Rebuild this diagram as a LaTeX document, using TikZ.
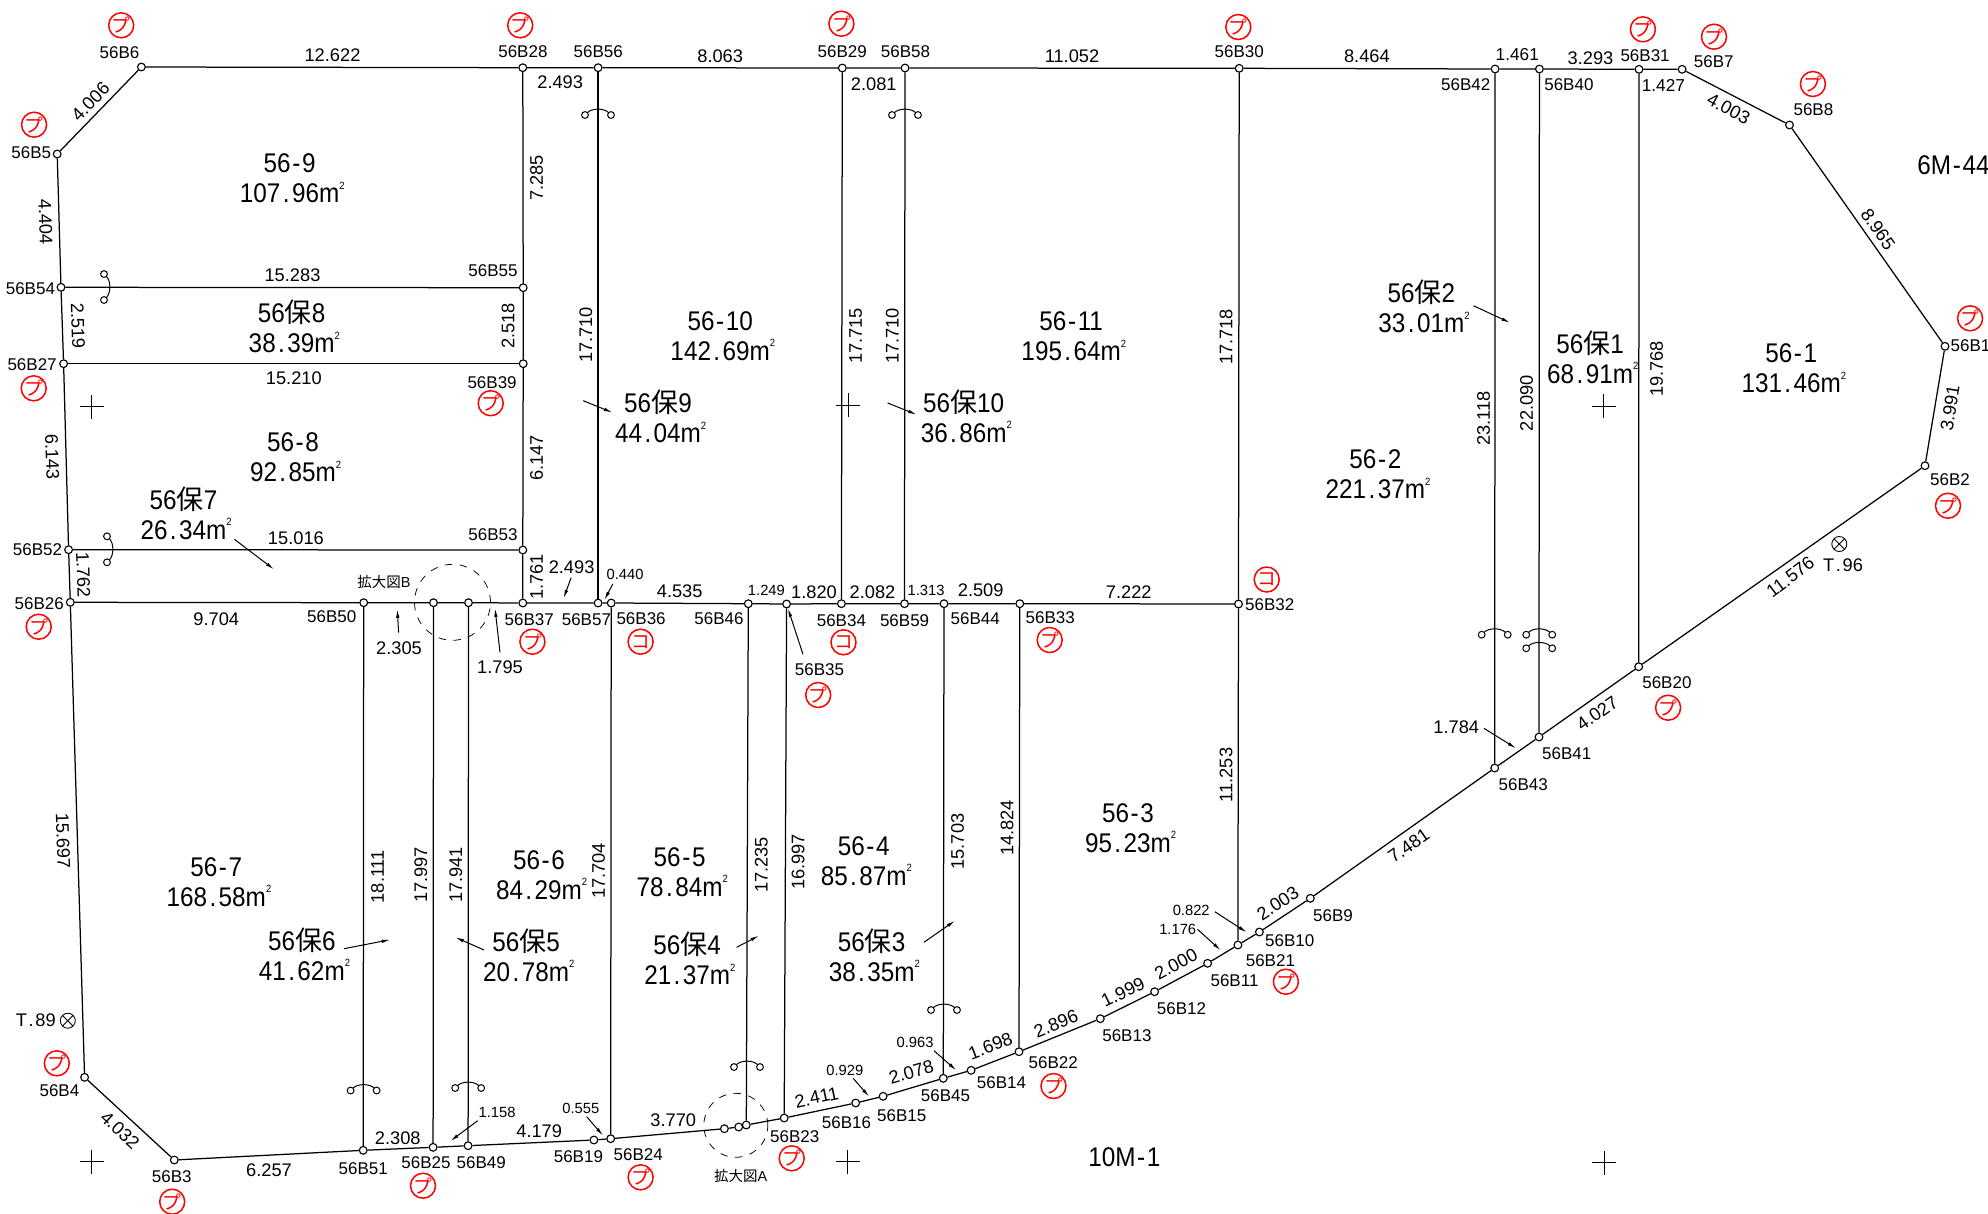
\documentclass[tikz,border=0pt]{standalone}
\usepackage{fontspec}
\setmainfont{Liberation Sans}
\newfontfamily\cjk{Noto Sans CJK JP}
\newfontfamily\areafont[FakeStretch=0.9]{Liberation Sans}
\usetikzlibrary{arrows.meta}
\newcommand{\sqm}{m\rlap{\raisebox{.5em}{\fontsize{4.2}{4.2}\selectfont 2}}}
\newcommand{\ho}{{\cjk 保}}
\newcommand{\dt}{\kern.09em.\kern.09em}
\newcommand{\hy}{\kern.06em-\kern.06em}

\begin{document}
\begin{tikzpicture}[x=0.4pt,y=-0.4pt]
 \tikzset{vertex/.style = {shape=circle,draw,fill=white,minimum size=3.1pt,inner sep=0pt,line width=0.45pt,
   path picture={\fill (path picture bounding box.center) circle (0.35pt);}}}
 \tikzset{edge/.style = {line width=0.5pt}}
 \tikzset{leader/.style = {line width=0.4pt,-{Latex[length=3.4pt,width=1.4pt]}}}
 \tikzset{pointlab/.style = {inner sep=0pt,font=\fontsize{6.8}{8}\selectfont}}
 \tikzset{dimlab/.style = {inner sep=0pt,font=\fontsize{7.3}{8}\selectfont}}
 \tikzset{smalldim/.style = {inner sep=0pt,font=\fontsize{5.9}{7}\selectfont}}
 \tikzset{area/.style = {inner sep=0pt,align=center,font=\areafont\fontsize{10.8}{12}\selectfont}}
 \tikzset{redmark/.style = {shape=circle,draw=red,text=red,line width=0.6pt,minimum size=10pt,inner sep=0pt,font=\cjk\fontsize{7.5}{8}\selectfont}}
 \tikzset{zoomcircle/.style = {draw,dashed,line width=0.3pt}}
 \tikzset{benchmark/.style = {shape=circle,draw,line width=0.35pt,minimum size=6pt,inner sep=0pt,
   path picture={\draw (path picture bounding box.north west) -- (path picture bounding box.south east)
     (path picture bounding box.north east) -- (path picture bounding box.south west);}}}
 \tikzset{hookmark/.pic = {
   \draw[line width=0.4pt] (-13,0) circle (3.4) (13,0) circle (3.4);
   \draw[line width=0.4pt] (-10.5,-2.5) .. controls (-6,-7) and (6,-7) .. (10.5,-2.5);}}
 \tikzset{gridcross/.pic = {\draw[line width=0.4pt] (-12,0) -- (12,0) (0,-12) -- (0,12);}}
 \useasboundingbox (0,0) rectangle (1988,1214);

 % vertices
 \node[vertex] (B1) at (1945,346.3) {};
 \node[vertex] (B2) at (1925,465.7) {};
 \node[vertex] (B3) at (174.3,1160) {};
 \node[vertex] (B4) at (84.6,1077.3) {};
 \node[vertex] (B5) at (57.2,154) {};
 \node[vertex] (B6) at (141.4,67) {};
 \node[vertex] (B7) at (1682.1,69.3) {};
 \node[vertex] (B8) at (1789.5,125) {};
 \node[vertex] (B9) at (1310.3,898.3) {};
 \node[vertex] (B10) at (1259.4,932) {};
 \node[vertex] (B11) at (1207.6,963.3) {};
 \node[vertex] (B12) at (1154.6,991.7) {};
 \node[vertex] (B13) at (1100.3,1018.7) {};
 \node[vertex] (B14) at (971.1,1070.3) {};
 \node[vertex] (B15) at (883.1,1096.3) {};
 \node[vertex] (B16) at (855.7,1103) {};
 \node[vertex] (B19) at (593.9,1140) {};
 \node[vertex] (B20) at (1638.7,666.7) {};
 \node[vertex] (B21) at (1237.9,945) {};
 \node[vertex] (B22) at (1019,1051.7) {};
 \node[vertex] (B23) at (784.2,1118) {};
 \node[vertex] (B24) at (610.7,1138.7) {};
 \node[vertex] (B25) at (433.1,1147.3) {};
 \node[vertex] (B26) at (70.3,602.3) {};
 \node[vertex] (B27) at (63.6,363.7) {};
 \node[vertex] (B28) at (522.8,67.7) {};
 \node[vertex] (B29) at (842.3,68) {};
 \node[vertex] (B30) at (1239.2,68.3) {};
 \node[vertex] (B31) at (1639,69.3) {};
 \node[vertex] (B32) at (1238.5,604) {};
 \node[vertex] (B33) at (1019.8,603.7) {};
 \node[vertex] (B34) at (841.4,603.7) {};
 \node[vertex] (B35) at (786.6,604) {};
 \node[vertex] (B36) at (611.2,603) {};
 \node[vertex] (B37) at (522.8,603) {};
 \node[vertex] (B39) at (523.2,363.7) {};
 \node[vertex] (B40) at (1539.4,69) {};
 \node[vertex] (B41) at (1539,737) {};
 \node[vertex] (B42) at (1495.1,69) {};
 \node[vertex] (B43) at (1494.7,768) {};
 \node[vertex] (B44) at (944,603.7) {};
 \node[vertex] (B45) at (943.3,1078.3) {};
 \node[vertex] (B46) at (748.3,603.7) {};
 \node[vertex] (B49) at (468.1,1145.7) {};
 \node[vertex] (B50) at (363.7,602.7) {};
 \node[vertex] (B51) at (363.2,1150.3) {};
 \node[vertex] (B52) at (68.6,549.7) {};
 \node[vertex] (B53) at (522.8,550) {};
 \node[vertex] (B54) at (61,287.3) {};
 \node[vertex] (B55) at (523.2,287.7) {};
 \node[vertex] (B56) at (598.1,67.7) {};
 \node[vertex] (B57) at (598.1,603) {};
 \node[vertex] (B58) at (905,68) {};
 \node[vertex] (B59) at (904.5,603.7) {};
 % unnumbered points in the two circles
 \node[vertex] (zb1) at (433.5,602.7) {};
 \node[vertex] (zb2) at (468.5,602.7) {};
 \node[vertex] (za1) at (724.4,1128.7) {};
 \node[vertex] (za2) at (738.7,1127) {};
 \node[vertex] (za3) at (746.3,1125) {};

 % edges
 \draw[edge] (B6) -- (B5) -- (B54) -- (B27) -- (B52) -- (B26) -- (B4) -- (B3) -- (B51) -- (B25) -- (B49) -- (B19) -- (B24) -- (za1) -- (za2) -- (za3) -- (B23) -- (B16) -- (B15) -- (B45) -- (B14) -- (B22) -- (B13) -- (B12) -- (B11) -- (B21) -- (B10) -- (B9) -- (B43) -- (B41) -- (B20) -- (B2) -- (B1) -- (B8) -- (B7);
 \draw[edge] (B6) -- (B28) -- (B56) -- (B29) -- (B58) -- (B30) -- (B42) -- (B40) -- (B31) -- (B7);
 \draw[edge] (B26) -- (B50) -- (zb1) -- (zb2) -- (B37) -- (B57) -- (B36) -- (B46) -- (B35) -- (B34) -- (B59) -- (B44) -- (B33) -- (B32);
 \draw[edge] (B54) -- (B55);
 \draw[edge] (B27) -- (B39);
 \draw[edge] (B52) -- (B53);
 \draw[edge] (B28) -- (B55) -- (B39) -- (B53) -- (B37);
 \draw[edge] (B56) -- (B57);
 \draw[edge] (B29) -- (B34);
 \draw[edge] (B58) -- (B59);
 \draw[edge] (B30) -- (B32) -- (B21);
 \draw[edge] (B36) -- (B24);
 \draw[edge] (B50) -- (B51);
 \draw[edge] (zb1) -- (B25);
 \draw[edge] (zb2) -- (B49);
 \draw[edge] (B46) -- (za3);
 \draw[edge] (B35) -- (B23);
 \draw[edge] (B44) -- (B45);
 \draw[edge] (B33) -- (B22);
 \draw[edge] (B42) -- (B43);
 \draw[edge] (B40) -- (B41);
 \draw[edge] (B31) -- (B20);

 % point names
 \node[pointlab] (tB1) at (1970.5,346) {56B1};
 \node[pointlab] (tB2) at (1950,480) {56B2};
 \node[pointlab] (tB3) at (171.8,1177) {56B3};
 \node[pointlab] (tB4) at (59.4,1091) {56B4};
 \node[pointlab] (tB5) at (31.2,152.5) {56B5};
 \node[pointlab] (tB6) at (119.6,52.8) {56B6};
 \node[pointlab] (tB7) at (1713.7,62) {56B7};
 \node[pointlab] (tB8) at (1813.4,110) {56B8};
 \node[pointlab] (tB9) at (1333,915.7) {56B9};
 \node[pointlab] (tB10) at (1289.8,940.5) {56B10};
 \node[pointlab] (tB11) at (1234.5,980.5) {56B11};
 \node[pointlab] (tB12) at (1181.5,1009) {56B12};
 \node[pointlab] (tB13) at (1126.9,1036) {56B13};
 \node[pointlab] (tB14) at (1001.5,1082.5) {56B14};
 \node[pointlab] (tB15) at (901.7,1115.8) {56B15};
 \node[pointlab] (tB16) at (846.5,1123) {56B16};
 \node[pointlab] (tB19) at (578.4,1157) {56B19};
 \node[pointlab] (tB20) at (1666.9,683) {56B20};
 \node[pointlab] (tB21) at (1270.4,960.5) {56B21};
 \node[pointlab] (tB22) at (1053.2,1063) {56B22};
 \node[pointlab] (tB23) at (794.8,1137) {56B23};
 \node[pointlab] (tB24) at (638.2,1154.5) {56B24};
 \node[pointlab] (tB25) at (426,1163) {56B25};
 \node[pointlab] (tB26) at (39.2,604) {56B26};
 \node[pointlab] (tB27) at (32.1,365) {56B27};
 \node[pointlab] (tB28) at (522.9,51.5) {56B28};
 \node[pointlab] (tB29) at (842.3,52) {56B29};
 \node[pointlab] (tB30) at (1239.3,52) {56B30};
 \node[pointlab] (tB31) at (1645.1,55.5) {56B31};
 \node[pointlab] (tB32) at (1269.7,605) {56B32};
 \node[pointlab] (tB33) at (1050.2,618) {56B33};
 \node[pointlab] (tB34) at (841.4,621) {56B34};
 \node[pointlab] (tB35) at (819.5,670) {56B35};
 \node[pointlab] (tB36) at (641.1,618.5) {56B36};
 \node[pointlab] (tB37) at (529.2,619.5) {56B37};
 \node[pointlab] (tB39) at (492.1,382.5) {56B39};
 \node[pointlab] (tB40) at (1568.9,85) {56B40};
 \node[pointlab] (tB41) at (1566.7,753.8) {56B41};
 \node[pointlab] (tB42) at (1465.8,85) {56B42};
 \node[pointlab] (tB43) at (1523.3,784.8) {56B43};
 \node[pointlab] (tB44) at (975.3,619) {56B44};
 \node[pointlab] (tB45) at (945.5,1096) {56B45};
 \node[pointlab] (tB46) at (719,619) {56B46};
 \node[pointlab] (tB49) at (481.2,1162.5) {56B49};
 \node[pointlab] (tB50) at (331.8,616.5) {56B50};
 \node[pointlab] (tB51) at (363.3,1168.5) {56B51};
 \node[pointlab] (tB52) at (37.5,550) {56B52};
 \node[pointlab] (tB53) at (493,534.5) {56B53};
 \node[pointlab] (tB54) at (30.4,288.5) {56B54};
 \node[pointlab] (tB55) at (493,270.5) {56B55};
 \node[pointlab] (tB56) at (598.2,51.5) {56B56};
 \node[pointlab] (tB57) at (586.4,619.5) {56B57};
 \node[pointlab] (tB58) at (905.5,52) {56B58};
 \node[pointlab] (tB59) at (904.6,621) {56B59};

 % red marks
 \node[redmark] (mB1) at (1970.1,318.3) {プ};
 \node[redmark] (mB2) at (1948,505.7) {プ};
 \node[redmark] (mB3) at (172.2,1201.7) {プ};
 \node[redmark] (mB4) at (56.8,1063.3) {プ};
 \node[redmark] (mB5) at (34.1,124.7) {プ};
 \node[redmark] (mB6) at (121.2,25.3) {プ};
 \node[redmark] (mB7) at (1714,36.7) {プ};
 \node[redmark] (mB8) at (1812.9,84) {プ};
 \node[redmark] (mB20) at (1668.1,707.7) {プ};
 \node[redmark] (mB21) at (1285.9,981.7) {プ};
 \node[redmark] (mB22) at (1053.5,1086) {プ};
 \node[redmark] (mB23) at (791.7,1158.3) {プ};
 \node[redmark] (mB24) at (640.6,1177.3) {プ};
 \node[redmark] (mB25) at (423,1185.7) {プ};
 \node[redmark] (mB26) at (38.7,626.7) {プ};
 \node[redmark] (mB27) at (33.7,388.3) {プ};
 \node[redmark] (mB28) at (520.2,25.3) {プ};
 \node[redmark] (mB29) at (841.4,23.7) {プ};
 \node[redmark] (mB30) at (1238.3,27) {プ};
 \node[redmark] (mB31) at (1642.9,29.3) {プ};
 \node[redmark] (mB32) at (1266.7,579.5) {コ};
 \node[redmark] (mB33) at (1049.7,640) {プ};
 \node[redmark] (mB34) at (843.5,642.3) {コ};
 \node[redmark] (mB35) at (818.2,695) {プ};
 \node[redmark] (mB36) at (640.6,641.7) {コ};
 \node[redmark] (mB37) at (532.4,641.7) {プ};
 \node[redmark] (mB39) at (490.7,403.2) {プ};

 % distances
 \node[dimlab] (d12622) at (332.5,55.5) {12.622};
 \node[dimlab,rotate=46] (d4006) at (90.5,101.7) {4.006};
 \node[dimlab,rotate=-88] (d4404) at (45.5,221.7) {4.404};
 \node[dimlab] (d2493) at (560.2,82.5) {2.493};
 \node[dimlab,rotate=90] (d7285) at (536.6,177.7) {7.285};
 \node[dimlab] (d15283) at (292.5,275) {15.283};
 \node[dimlab,rotate=-88] (d2519) at (77.9,325.7) {2.519};
 \node[dimlab,rotate=90] (d2518) at (508,325.7) {2.518};
 \node[dimlab] (d15210) at (293.8,378) {15.210};
 \node[dimlab,rotate=90] (d17710) at (585.9,335) {17.710};
 \node[dimlab,rotate=-88] (d6143) at (52.2,456.7) {6.143};
 \node[dimlab] (d15016) at (295.9,538) {15.016};
 \node[dimlab,rotate=90] (d6147) at (536.6,458) {6.147};
 \node[dimlab,rotate=90] (d1761) at (536.6,576.7) {1.761};
 \node[dimlab] (d2493b) at (571.6,567) {2.493};
 \node[smalldim] (d0440) at (625,574) {0.440};
 \node[dimlab,rotate=-88] (d1762) at (83.3,575) {1.762};
 \node[dimlab] (d9704) at (216.3,619) {9.704};
 \node[dimlab] (d2305) at (399,648.3) {2.305};
 \node[dimlab] (d1795) at (500,667) {1.795};
 \node[dimlab,rotate=-88] (d15697) at (63.1,840.7) {15.697};
 \node[dimlab,rotate=-43] (d4032) at (120,1130) {4.032};
 \node[dimlab] (d6257) at (269,1170) {6.257};
 \node[dimlab] (d2308) at (397.8,1137.8) {2.308};
 \node[smalldim] (d1158) at (497.1,1112) {1.158};
 \node[dimlab] (d4179) at (539.2,1131.5) {4.179};
 \node[smalldim] (d0555) at (580.8,1108.3) {0.555};
 \node[dimlab,rotate=90] (d18111) at (377.6,876.7) {18.111};
 \node[dimlab,rotate=90] (d17997) at (420.9,875) {17.997};
 \node[dimlab,rotate=90] (d17941) at (455.8,875) {17.941};
 \node[dimlab,rotate=90] (d17704) at (598.5,871) {17.704};
 \node[dimlab] (d8063) at (720.2,56) {8.063};
 \node[dimlab] (d2081) at (873.8,84) {2.081};
 \node[dimlab] (d11052) at (1072,56) {11.052};
 \node[dimlab,rotate=90] (d17715) at (855.7,336) {17.715};
 \node[dimlab,rotate=90] (d17710b) at (892.3,336) {17.710};
 \node[dimlab,rotate=90] (d17718) at (1226.1,337) {17.718};
 \node[dimlab] (d4535) at (679.7,591.3) {4.535};
 \node[smalldim] (d1249) at (766.4,590) {1.249};
 \node[dimlab] (d1820) at (814,592) {1.820};
 \node[dimlab] (d2082) at (872.5,592) {2.082};
 \node[smalldim] (d1313) at (926,590.7) {1.313};
 \node[dimlab] (d2509) at (980.7,590.7) {2.509};
 \node[dimlab] (d7222) at (1128.8,592) {7.222};
 \node[dimlab,rotate=90] (d17235) at (761.4,865) {17.235};
 \node[dimlab,rotate=90] (d16997) at (798,862) {16.997};
 \node[dimlab,rotate=90] (d15703) at (957.6,841.5) {15.703};
 \node[dimlab,rotate=90] (d14824) at (1007.2,828) {14.824};
 \node[dimlab,rotate=90] (d11253) at (1226.1,775) {11.253};
 \node[dimlab] (d3770) at (673.3,1120) {3.770};
 \node[dimlab,rotate=12] (d2411) at (816.6,1097.3) {2.411};
 \node[smalldim] (d0929) at (844.8,1070.5) {0.929};
 \node[dimlab,rotate=16] (d2078) at (911.3,1072.3) {2.078};
 \node[smalldim] (d0963) at (915.1,1042.5) {0.963};
 \node[dimlab,rotate=21] (d1698) at (990.4,1046) {1.698};
 \node[dimlab,rotate=22] (d2896) at (1056,1023.7) {2.896};
 \node[dimlab,rotate=26] (d1999) at (1123,992.3) {1.999};
 \node[dimlab,rotate=28] (d2000) at (1176,964.3) {2.000};
 \node[dimlab,rotate=33] (d2003) at (1277.9,903.3) {2.003};
 \node[smalldim] (d0822) at (1191.2,910.5) {0.822};
 \node[smalldim] (d1176) at (1177.7,929.5) {1.176};
 \node[dimlab] (d8464) at (1366.9,56.7) {8.464};
 \node[inner sep=0pt,font=\fontsize{6.9}{8}\selectfont] (d1461) at (1517.3,54.3) {1.461};
 \node[dimlab] (d3293) at (1590.5,58) {3.293};
 \node[inner sep=0pt,font=\fontsize{6.9}{8}\selectfont] (d1427) at (1663.4,85.3) {1.427};
 \node[dimlab,rotate=-28] (d4003) at (1728.6,109) {4.003};
 \node[dimlab,rotate=-55] (d8965) at (1878.1,229.3) {8.965};
 \node[dimlab,rotate=90] (d19768) at (1656.5,369) {19.768};
 \node[dimlab,rotate=90] (d23118) at (1483.5,418.4) {23.118};
 \node[dimlab,rotate=90] (d22090) at (1526.6,403.2) {22.090};
 \node[dimlab,rotate=81] (d3991) at (1950,408.3) {3.991};
 \node[dimlab,rotate=37] (d11576) at (1790.3,577) {11.576};
 \node[dimlab,rotate=35] (d4027) at (1597.3,713.3) {4.027};
 \node[dimlab,rotate=35] (d7481) at (1408.7,845.7) {7.481};
 \node[dimlab] (d1784) at (1456.3,727.5) {1.784};

 % parcels
 \node[area] (p9) at (289.6,178.5) {56\hy 9\\107\dt 96\sqm};
 \node[area] (h8) at (291.7,326.7) {56\ho8\\38\dt 39\sqm};
 \node[area] (p8) at (293,457.5) {56\hy 8\\92\dt 85\sqm};
 \node[area] (h7) at (183.5,513) {56\ho7\\26\dt 34\sqm};
 \node[area] (p7) at (216.3,881.7) {56\hy 7\\168\dt 58\sqm};
 \node[area] (p6) at (539,875) {56\hy 6\\84\dt 29\sqm};
 \node[area] (h6) at (301.8,954) {56\ho6\\41\dt 62\sqm};
 \node[area] (h5) at (526.1,955) {56\ho5\\20\dt 78\sqm};
 \node[area] (p5) at (679.6,872) {56\hy 5\\78\dt 84\sqm};
 \node[area] (h4) at (687.2,958.6) {56\ho4\\21\dt 37\sqm};
 \node[area] (p4) at (863.7,861) {56\hy 4\\85\dt 87\sqm};
 \node[area] (h3) at (871.7,955) {56\ho3\\38\dt 35\sqm};
 \node[area] (p3) at (1128,828) {56\hy 3\\95\dt 23\sqm};
 \node[area] (p10) at (720.2,336) {56\hy 10\\142\dt 69\sqm};
 \node[area] (h9) at (658,416.5) {56\ho9\\44\dt 04\sqm};
 \node[area] (p11) at (1071.2,336.5) {56\hy 11\\195\dt 64\sqm};
 \node[area] (h10) at (963.7,416) {56\ho10\\36\dt 86\sqm};
 \node[area] (h2) at (1421.4,306.5) {56\ho2\\33\dt 01\sqm};
 \node[area] (h1) at (1590.1,357) {56\ho1\\68\dt 91\sqm};
 \node[area] (p1) at (1791.2,368.3) {56\hy 1\\131\dt 46\sqm};
 \node[area] (p2) at (1375.4,474.3) {56\hy 2\\221\dt 37\sqm};
 \node[area] (r1) at (1124.3,1157.3) {10M\hy 1};
 \node[area] (r2) at (1953.5,165) {6M\hy 44};

 % leaders
 \coordinate (ah7) at (234.4,539.3); \coordinate (bh7) at (274,569.3);
 \coordinate (ah6) at (343.9,948.7); \coordinate (bh6) at (390.2,939.7);
 \coordinate (ah5) at (484,950); \coordinate (bh5) at (455.4,937.3);
 \coordinate (ah4) at (736.6,947.3); \coordinate (bh4) at (758.9,935.7);
 \coordinate (ah3) at (923.9,942.3); \coordinate (bh3) at (955,920.7);
 \coordinate (ah9) at (583.2,400.7); \coordinate (bh9) at (612.4,412.5);
 \coordinate (ah10) at (887.6,403); \coordinate (bh10) at (916.7,414.6);
 \coordinate (ah2) at (1473.4,305.7); \coordinate (bh2) at (1510,322.7);
 \coordinate (a2305) at (398.6,632.7); \coordinate (b2305) at (397.3,609.3);
 \coordinate (a1795) at (500,652.3); \coordinate (b1795) at (495,608.3);
 \coordinate (a2493) at (571.1,577.7); \coordinate (b2493) at (563.6,598.3);
 \coordinate (a0440) at (612.8,584); \coordinate (b0440) at (604.4,600);
 \coordinate (a1158) at (477.7,1120.7); \coordinate (b1158) at (450.4,1141);
 \coordinate (a0555) at (586.7,1116.7); \coordinate (b0555) at (603.1,1135.7);
 \coordinate (a0929) at (853.2,1078.3); \coordinate (b0929) at (869.2,1096.7);
 \coordinate (a0963) at (934,1050.7); \coordinate (b0963) at (956.3,1070.3);
 \coordinate (a0822) at (1214.8,911.7); \coordinate (b0822) at (1246.7,932.3);
 \coordinate (a1176) at (1197.5,929.3); \coordinate (b1176) at (1220.7,950.3);
 \coordinate (a1784) at (1484,728.3); \coordinate (b1784) at (1516,748.3);
 \coordinate (a35) at (803,654.3); \coordinate (b35) at (787.9,608.3);
 \foreach \n in {h7,h6,h5,h4,h3,h9,h10,h2,2305,1795,2493,0440,1158,0555,0929,0963,0822,1176,1784,35}
   \draw[leader] (a\n) -- (b\n);

 % hook marks on the lines
 \pic at (598,115) {hookmark};
 \pic at (905,115) {hookmark};
 \pic[rotate=-90] at (104,287) {hookmark};
 \pic[rotate=-90] at (107,549.3) {hookmark};
 \pic at (363.6,1090.5) {hookmark};
 \pic at (468.2,1088) {hookmark};
 \pic at (747,1067) {hookmark};
 \pic at (944,1010) {hookmark};
 \pic at (1494.7,634.7) {hookmark};
 \pic at (1539.2,634.7) {hookmark};
 \pic at (1539.2,648.3) {hookmark};

 % grid crosses
 \pic at (91.8,406.7) {gridcross};
 \pic at (848,405) {gridcross};
 \pic at (1603.7,406) {gridcross};
 \pic at (91.8,1161.7) {gridcross};
 \pic at (847.7,1161.7) {gridcross};
 \pic at (1604,1162.7) {gridcross};

 % enlargement circles
 \node[zoomcircle,shape=circle,minimum size=30.4pt,inner sep=0pt] (zoomB) at (452.5,602.3) {};
 \node[zoomcircle,shape=circle,minimum size=25.6pt,inner sep=0pt] (zoomA) at (735.8,1125.3) {};
 \node[inner sep=0pt,font=\fontsize{5.8}{7}\selectfont] (tzoomB) at (383.9,582) {{\cjk 拡大図}B};
 \node[inner sep=0pt,font=\fontsize{5.8}{7}\selectfont] (tzoomA) at (740.8,1176) {{\cjk 拡大図}A};

 % benchmarks
 \node[benchmark] (T89) at (67.8,1020.7) {};
 \node[dimlab] (tT89) at (35.8,1020.5) {T\dt 89};
 \node[benchmark] (T96) at (1839.3,544) {};
 \node[dimlab] (tT96) at (1843.1,564.8) {T\dt 96};
\end{tikzpicture}
\end{document}
